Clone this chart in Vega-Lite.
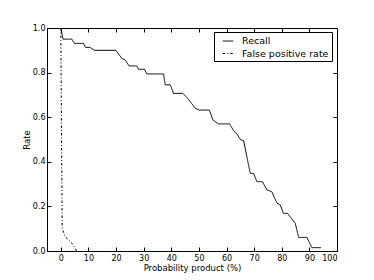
{
  "$schema": "https://vega.github.io/schema/vega-lite/v6.json",
  "width": 290,
  "height": 223,
  "autosize": {"type": "none"},
  "padding": {"left": 47, "top": 28, "right": 37, "bottom": 29},
  "background": "white",
  "config": {
    "font": "DejaVu Sans",
    "view": {"stroke": "black", "strokeWidth": 1},
    "axis": {
      "grid": false,
      "domainColor": "black",
      "tickColor": "black",
      "labelColor": "black",
      "titleColor": "black",
      "labelFont": "DejaVu Sans",
      "titleFont": "DejaVu Sans",
      "labelFontSize": 8,
      "titleFontSize": 8.5,
      "titleFontWeight": "normal",
      "tickSize": -4
    }
  },
  "datasets": {
    "curves": [
      {"x": 0, "rate": 1.0, "series": "Recall"},
      {"x": 0.8, "rate": 0.95, "series": "Recall"},
      {"x": 4.0, "rate": 0.95, "series": "Recall"},
      {"x": 4.9, "rate": 0.931, "series": "Recall"},
      {"x": 8.2, "rate": 0.931, "series": "Recall"},
      {"x": 9.0, "rate": 0.913, "series": "Recall"},
      {"x": 10.6, "rate": 0.913, "series": "Recall"},
      {"x": 12.2, "rate": 0.9, "series": "Recall"},
      {"x": 19.9, "rate": 0.9, "series": "Recall"},
      {"x": 22.1, "rate": 0.864, "series": "Recall"},
      {"x": 23.3, "rate": 0.857, "series": "Recall"},
      {"x": 24.7, "rate": 0.83, "series": "Recall"},
      {"x": 27.5, "rate": 0.83, "series": "Recall"},
      {"x": 28.1, "rate": 0.815, "series": "Recall"},
      {"x": 30.3, "rate": 0.815, "series": "Recall"},
      {"x": 31.1, "rate": 0.794, "series": "Recall"},
      {"x": 37.2, "rate": 0.794, "series": "Recall"},
      {"x": 37.8, "rate": 0.745, "series": "Recall"},
      {"x": 39.6, "rate": 0.745, "series": "Recall"},
      {"x": 40.8, "rate": 0.707, "series": "Recall"},
      {"x": 44.2, "rate": 0.707, "series": "Recall"},
      {"x": 45.9, "rate": 0.685, "series": "Recall"},
      {"x": 48.7, "rate": 0.64, "series": "Recall"},
      {"x": 50.2, "rate": 0.632, "series": "Recall"},
      {"x": 53.8, "rate": 0.632, "series": "Recall"},
      {"x": 55.1, "rate": 0.587, "series": "Recall"},
      {"x": 57.1, "rate": 0.57, "series": "Recall"},
      {"x": 61.1, "rate": 0.57, "series": "Recall"},
      {"x": 62.8, "rate": 0.535, "series": "Recall"},
      {"x": 63.8, "rate": 0.525, "series": "Recall"},
      {"x": 65.0, "rate": 0.5, "series": "Recall"},
      {"x": 66.2, "rate": 0.494, "series": "Recall"},
      {"x": 67.6, "rate": 0.408, "series": "Recall"},
      {"x": 68.6, "rate": 0.348, "series": "Recall"},
      {"x": 69.8, "rate": 0.348, "series": "Recall"},
      {"x": 71.0, "rate": 0.311, "series": "Recall"},
      {"x": 73.0, "rate": 0.311, "series": "Recall"},
      {"x": 74.6, "rate": 0.274, "series": "Recall"},
      {"x": 76.4, "rate": 0.266, "series": "Recall"},
      {"x": 78.3, "rate": 0.214, "series": "Recall"},
      {"x": 79.5, "rate": 0.206, "series": "Recall"},
      {"x": 80.6, "rate": 0.169, "series": "Recall"},
      {"x": 82.1, "rate": 0.169, "series": "Recall"},
      {"x": 84.9, "rate": 0.124, "series": "Recall"},
      {"x": 86.1, "rate": 0.061, "series": "Recall"},
      {"x": 89.1, "rate": 0.061, "series": "Recall"},
      {"x": 90.9, "rate": 0.015, "series": "Recall"},
      {"x": 94.2, "rate": 0.015, "series": "Recall"},
      {"x": 0, "rate": 1.0, "series": "False positive rate"},
      {"x": 0.2, "rate": 0.6, "series": "False positive rate"},
      {"x": 0.4, "rate": 0.3, "series": "False positive rate"},
      {"x": 0.5, "rate": 0.1, "series": "False positive rate"},
      {"x": 1.6, "rate": 0.064, "series": "False positive rate"},
      {"x": 4.0, "rate": 0.035, "series": "False positive rate"},
      {"x": 5.2, "rate": 0.012, "series": "False positive rate"},
      {"x": 5.7, "rate": 0.0, "series": "False positive rate"}
    ]
  },
  "data": {"name": "curves"},
  "layer": [
    {
      "mark": {"type": "line", "color": "black", "strokeWidth": 1},
      "encoding": {
        "x": {
          "field": "x", "type": "quantitative",
          "scale": {"domain": [-5, 100], "nice": false, "zero": false},
          "axis": {"title": "Probability product (%)", "values": [0, 10, 20, 30, 40, 50, 60, 70, 80, 90, 100], "labelPadding": 7, "titlePadding": 1}
        },
        "y": {
          "field": "rate", "type": "quantitative",
          "scale": {"domain": [0, 1], "nice": false},
          "axis": {"title": "Rate", "values": [0, 0.2, 0.4, 0.6, 0.8, 1.0], "format": ".1f", "labelPadding": 6, "titlePadding": 1}
        },
        "detail": {"field": "series"},
        "strokeDash": {
          "field": "series", "type": "nominal",
          "scale": {"domain": ["Recall", "False positive rate"], "range": [[1, 0], [2.5, 2, 1, 2]]},
          "legend": {
            "title": null,
            "orient": "none",
            "legendX": 167,
            "legendY": 4,
            "strokeColor": "black",
            "fillColor": "white",
            "padding": 3,
            "cornerRadius": 0,
            "symbolType": "stroke",
            "symbolStrokeColor": "black",
            "symbolStrokeWidth": 1,
            "symbolSize": 110,
            "symbolOffset": 5,
            "labelOffset": 8,
            "labelFont": "DejaVu Sans",
            "labelFontSize": 9.5,
            "labelColor": "black",
            "rowPadding": 1.5
          }
        }
      }
    },
    {
      "mark": {"type": "line", "opacity": 0},
      "encoding": {
        "x": {
          "field": "x", "type": "quantitative",
          "scale": {"domain": [-5, 100], "nice": false, "zero": false},
          "axis": {"orient": "top", "title": null, "labels": false, "domain": false, "values": [0, 10, 20, 30, 40, 50, 60, 70, 80, 90, 100]}
        },
        "y": {
          "field": "rate", "type": "quantitative",
          "scale": {"domain": [0, 1], "nice": false},
          "axis": {"orient": "right", "title": null, "labels": false, "domain": false, "values": [0, 0.2, 0.4, 0.6, 0.8, 1.0]}
        },
        "detail": {"field": "series"}
      }
    }
  ],
  "resolve": {"axis": {"x": "independent", "y": "independent"}}
}
